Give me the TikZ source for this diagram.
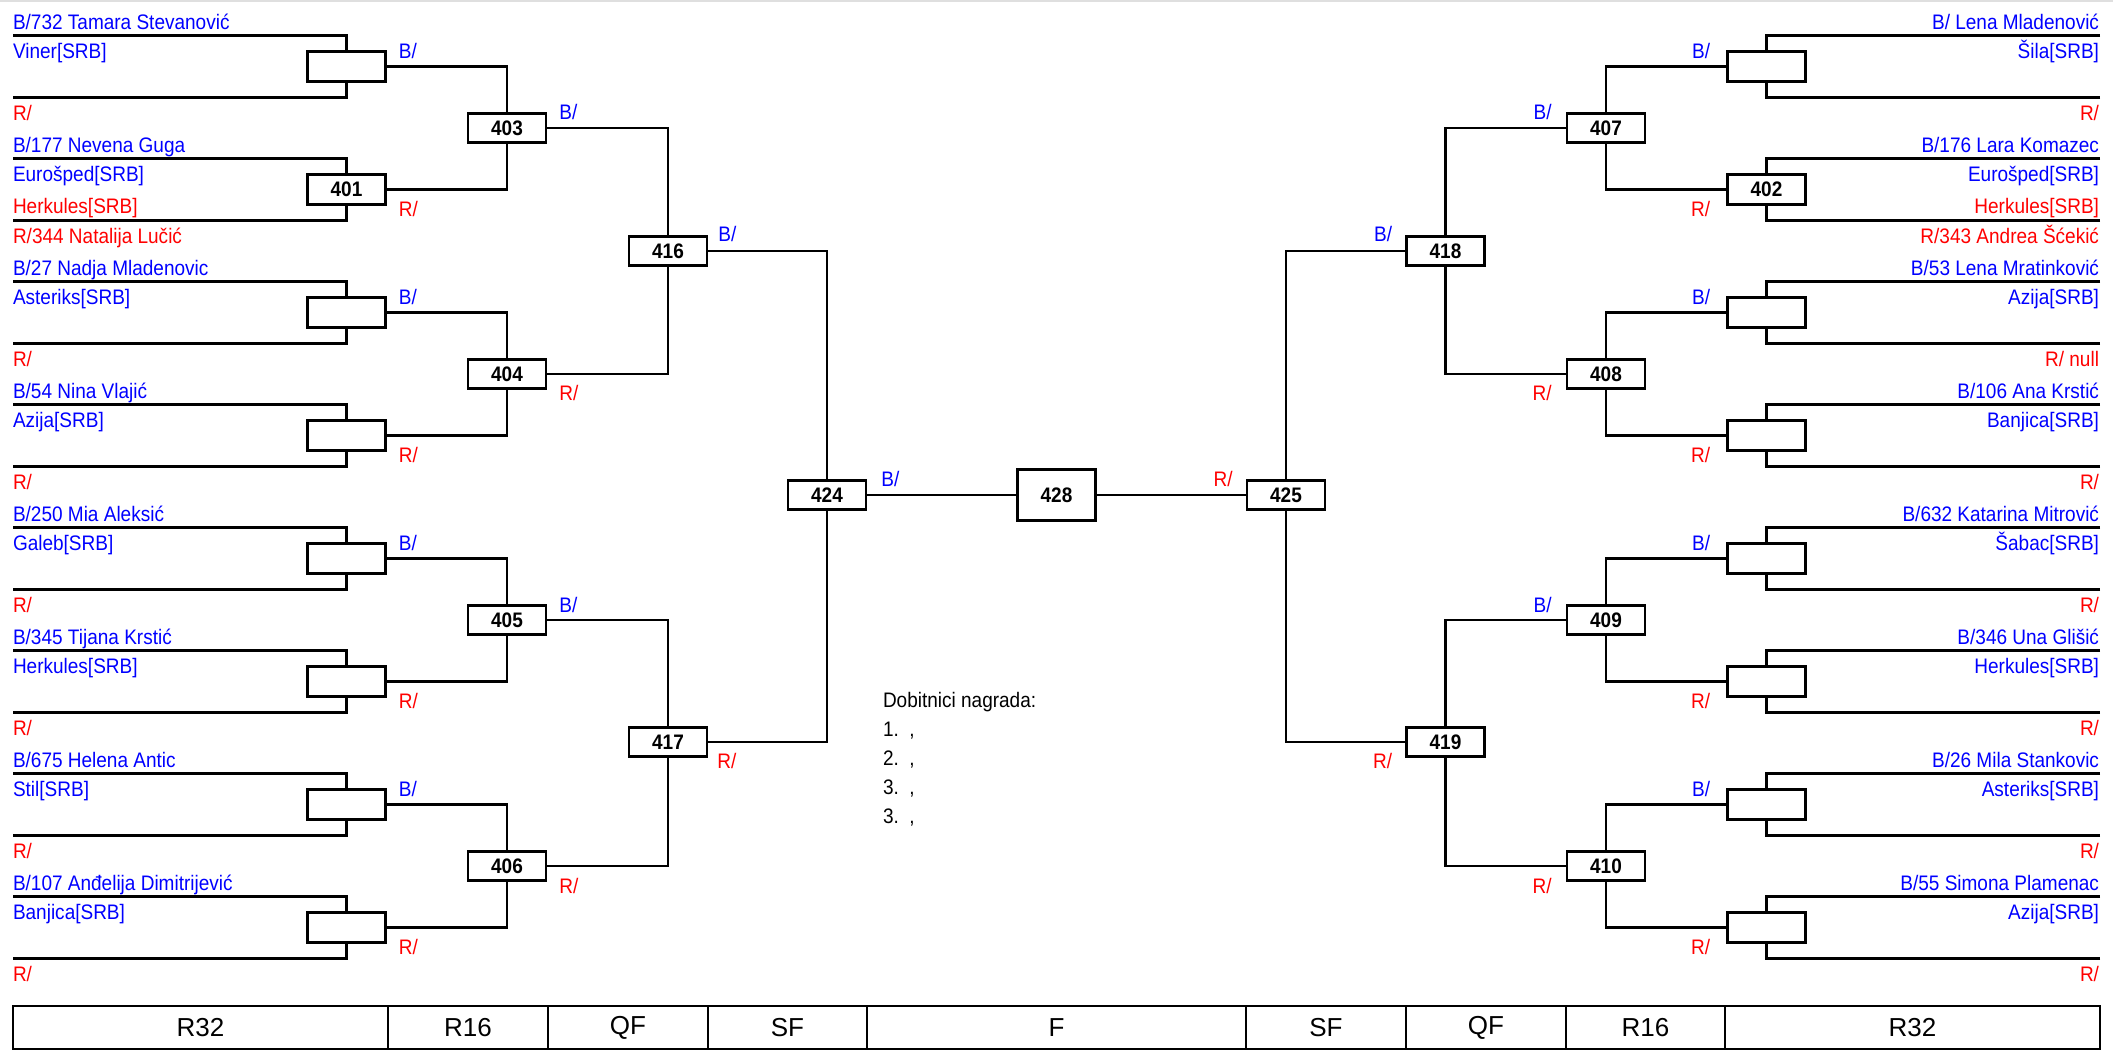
\documentclass[tikz,border=0pt]{standalone}
\usepackage{fontspec}
\setmainfont{Liberation Sans}
\newfontfamily\condf{Liberation Sans}[FakeStretch=0.905]
\usetikzlibrary{calc}
\definecolor{tblue}{RGB}{0,0,255}
\definecolor{tred}{RGB}{255,0,0}
\tikzset{
  txt/.style={inner sep=0pt,outer sep=0pt,font=\condf\fontsize{21}{22}\selectfont},
  bl/.style={txt,text=tblue},
  rd/.style={txt,text=tred},
  bk/.style={txt,text=black},
  mbox/.style={draw=black,line width=2.8pt,minimum width=78pt,minimum height=29.5pt,inner sep=0pt,font=\condf\fontsize{21}{22}\selectfont\bfseries},
  finbox/.style={mbox,minimum height=51pt},
  bline/.style={line width=2.8pt},
  conn/.style={line width=2.2pt},
  tbl/.style={inner sep=0pt,font=\fontsize{26}{28}\selectfont}
}
\newcommand\LM[6]{%
  \node[mbox] (#1) at (346.5,#2+30.8) {#3};
  \coordinate (#1a) at (13,#2);
  \coordinate (#1b) at (13,#2+61.6);
  \draw[bline] (#1a) -| (#1.north);
  \draw[bline] (#1b) -| (#1.south);
  \node[bl,anchor=base west] (#1n) at (13,#2-6.5) {#4};
  \node[bl,anchor=base west] (#1c) at (13,#2+22.5) {#5};
  \node[rd,anchor=base west] (#1s) at (13,#2+84.6) {#6};
}
\newcommand\RM[6]{%
  \node[mbox] (#1) at (1766.5,#2+30.8) {#3};
  \coordinate (#1a) at (2100,#2);
  \coordinate (#1b) at (2100,#2+61.6);
  \draw[bline] (#1a) -| (#1.north);
  \draw[bline] (#1b) -| (#1.south);
  \node[bl,anchor=base east] (#1n) at (2099,#2-6.5) {#4};
  \node[bl,anchor=base east] (#1c) at (2099,#2+22.5) {#5};
  \node[rd,anchor=base east] (#1s) at (2099,#2+84.6) {#6};
}
\begin{document}
\begin{tikzpicture}[x=1pt,y=-1pt]
\useasboundingbox (0,0) rectangle (2113,1056);
\draw[gray!25,line width=2pt] (0,1) -- (2113,1);

% ---------- left R32 ----------
\LM{L0}{35.7}{}{B/732 Tamara Stevanović}{Viner[SRB]}{R/}
\LM{L1}{158.7}{401}{B/177 Nevena Guga}{Eurošped[SRB]}{R/344 Natalija Lučić}
\node[rd,anchor=base west] (L1h) at (13,213.8) {Herkules[SRB]};
\LM{L2}{281.7}{}{B/27 Nadja Mladenovic}{Asteriks[SRB]}{R/}
\LM{L3}{404.7}{}{B/54 Nina Vlajić}{Azija[SRB]}{R/}
\LM{L4}{527.7}{}{B/250 Mia Aleksić}{Galeb[SRB]}{R/}
\LM{L5}{650.7}{}{B/345 Tijana Krstić}{Herkules[SRB]}{R/}
\LM{L6}{773.7}{}{B/675 Helena Antic}{Stil[SRB]}{R/}
\LM{L7}{896.7}{}{B/107 Anđelija Dimitrijević}{Banjica[SRB]}{R/}

% ---------- right R32 ----------
\RM{R0}{35.7}{}{B/ Lena Mladenović}{Šila[SRB]}{R/}
\RM{R1}{158.7}{402}{B/176 Lara Komazec}{Eurošped[SRB]}{R/343 Andrea Šćekić}
\node[rd,anchor=base east] (R1h) at (2099,213.8) {Herkules[SRB]};
\RM{R2}{281.7}{}{B/53 Lena Mratinković}{Azija[SRB]}{R/ null}
\RM{R3}{404.7}{}{B/106 Ana Krstić}{Banjica[SRB]}{R/}
\RM{R4}{527.7}{}{B/632 Katarina Mitrović}{Šabac[SRB]}{R/}
\RM{R5}{650.7}{}{B/346 Una Glišić}{Herkules[SRB]}{R/}
\RM{R6}{773.7}{}{B/26 Mila Stankovic}{Asteriks[SRB]}{R/}
\RM{R7}{896.7}{}{B/55 Simona Plamenac}{Azija[SRB]}{R/}

% ---------- later rounds ----------
\node[mbox] (A0) at (507,128) {403};
\node[mbox] (A1) at (507,374) {404};
\node[mbox] (A2) at (507,620) {405};
\node[mbox] (A3) at (507,866) {406};
\node[mbox] (B0) at (1606,128) {407};
\node[mbox] (B1) at (1606,374) {408};
\node[mbox] (B2) at (1606,620) {409};
\node[mbox] (B3) at (1606,866) {410};
\node[mbox] (Q0) at (668,251) {416};
\node[mbox] (Q1) at (668,742) {417};
\node[mbox] (Q2) at (1445.5,251) {418};
\node[mbox] (Q3) at (1445.5,742) {419};
\node[mbox] (S0) at (827,495) {424};
\node[mbox] (S1) at (1286,495) {425};
\node[finbox] (F) at (1056.5,495) {428};

% connectors left
\draw[conn] (L0.east) -| (A0.north);
\draw[conn] (L1.east) -| (A0.south);
\draw[conn] (L2.east) -| (A1.north);
\draw[conn] (L3.east) -| (A1.south);
\draw[conn] (L4.east) -| (A2.north);
\draw[conn] (L5.east) -| (A2.south);
\draw[conn] (L6.east) -| (A3.north);
\draw[conn] (L7.east) -| (A3.south);
\draw[conn] (A0.east) -| (Q0.north);
\draw[conn] (A1.east) -| (Q0.south);
\draw[conn] (A2.east) -| (Q1.north);
\draw[conn] (A3.east) -| (Q1.south);
\draw[conn] (Q0.east) -| (S0.north);
\draw[conn] (Q1.east) -| (S0.south);
\draw[conn] (S0.east) -- (F.west);
% connectors right
\draw[conn] (R0.west) -| (B0.north);
\draw[conn] (R1.west) -| (B0.south);
\draw[conn] (R2.west) -| (B1.north);
\draw[conn] (R3.west) -| (B1.south);
\draw[conn] (R4.west) -| (B2.north);
\draw[conn] (R5.west) -| (B2.south);
\draw[conn] (R6.west) -| (B3.north);
\draw[conn] (R7.west) -| (B3.south);
\draw[conn] (B0.west) -| (Q2.north);
\draw[conn] (B1.west) -| (Q2.south);
\draw[conn] (B2.west) -| (Q3.north);
\draw[conn] (B3.west) -| (Q3.south);
\draw[conn] (Q2.west) -| (S1.north);
\draw[conn] (Q3.west) -| (S1.south);
\draw[conn] (S1.west) -- (F.east);

% box labels left
\node[bl,anchor=base west] (lL0) at ($(L0.east)+(12,-8)$) {B/};
\node[rd,anchor=base west] (lL1) at ($(L1.east)+(12,27)$) {R/};
\node[bl,anchor=base west] (lL2) at ($(L2.east)+(12,-8)$) {B/};
\node[rd,anchor=base west] (lL3) at ($(L3.east)+(12,27)$) {R/};
\node[bl,anchor=base west] (lL4) at ($(L4.east)+(12,-8)$) {B/};
\node[rd,anchor=base west] (lL5) at ($(L5.east)+(12,27)$) {R/};
\node[bl,anchor=base west] (lL6) at ($(L6.east)+(12,-8)$) {B/};
\node[rd,anchor=base west] (lL7) at ($(L7.east)+(12,27)$) {R/};
\node[bl,anchor=base west] (lA0) at ($(A0.east)+(12,-8)$) {B/};
\node[rd,anchor=base west] (lA1) at ($(A1.east)+(12,27)$) {R/};
\node[bl,anchor=base west] (lA2) at ($(A2.east)+(12,-8)$) {B/};
\node[rd,anchor=base west] (lA3) at ($(A3.east)+(12,27)$) {R/};
\node[bl,anchor=base west] (lQ0) at ($(Q0.east)+(10,-9)$) {B/};
\node[rd,anchor=base west] (lQ1) at ($(Q1.east)+(9,26)$) {R/};
\node[bl,anchor=base west] (lS0) at ($(S0.east)+(14,-9)$) {B/};
% box labels right
\node[bl,anchor=base east] (lR0) at ($(R0.west)+(-16,-8)$) {B/};
\node[rd,anchor=base east] (lR1) at ($(R1.west)+(-16,27)$) {R/};
\node[bl,anchor=base east] (lR2) at ($(R2.west)+(-16,-8)$) {B/};
\node[rd,anchor=base east] (lR3) at ($(R3.west)+(-16,27)$) {R/};
\node[bl,anchor=base east] (lR4) at ($(R4.west)+(-16,-8)$) {B/};
\node[rd,anchor=base east] (lR5) at ($(R5.west)+(-16,27)$) {R/};
\node[bl,anchor=base east] (lR6) at ($(R6.west)+(-16,-8)$) {B/};
\node[rd,anchor=base east] (lR7) at ($(R7.west)+(-16,27)$) {R/};
\node[bl,anchor=base east] (lB0) at ($(B0.west)+(-14,-8)$) {B/};
\node[rd,anchor=base east] (lB1) at ($(B1.west)+(-14,27)$) {R/};
\node[bl,anchor=base east] (lB2) at ($(B2.west)+(-14,-8)$) {B/};
\node[rd,anchor=base east] (lB3) at ($(B3.west)+(-14,27)$) {R/};
\node[bl,anchor=base east] (lQ2) at ($(Q2.west)+(-13,-9)$) {B/};
\node[rd,anchor=base east] (lQ3) at ($(Q3.west)+(-13,26)$) {R/};
\node[rd,anchor=base east] (lS1) at ($(S1.west)+(-13,-9)$) {R/};

% prize winners
\node[bk,anchor=base west] (d0) at (883,707) {Dobitnici nagrada:};
\node[bk,anchor=base west] (d1) at (883,736) {1.\ \ ,};
\node[bk,anchor=base west] (d2) at (883,765) {2.\ \ ,};
\node[bk,anchor=base west] (d3) at (883,794) {3.\ \ ,};
\node[bk,anchor=base west] (d4) at (883,823) {3.\ \ ,};

% round table
\draw[line width=2pt] (13,1006) rectangle (2100,1049);
\draw[line width=2.6pt] (13,1049) -- (2100,1049);
\foreach \xx in {388,548,708,867,1246,1406,1566,1725}
  \draw[line width=2pt] (\xx,1006) -- (\xx,1049);
\node[tbl] (t1) at (200.5,1027.5) {R32};
\node[tbl] (t2) at (468,1027.5) {R16};
\node[tbl] (t3) at (628,1027.5) {QF};
\node[tbl] (t4) at (787.5,1027.5) {SF};
\node[tbl] (t5) at (1056.5,1027.5) {F};
\node[tbl] (t6) at (1326,1027.5) {SF};
\node[tbl] (t7) at (1486,1027.5) {QF};
\node[tbl] (t8) at (1645.5,1027.5) {R16};
\node[tbl] (t9) at (1912.5,1027.5) {R32};
\end{tikzpicture}
\end{document}
